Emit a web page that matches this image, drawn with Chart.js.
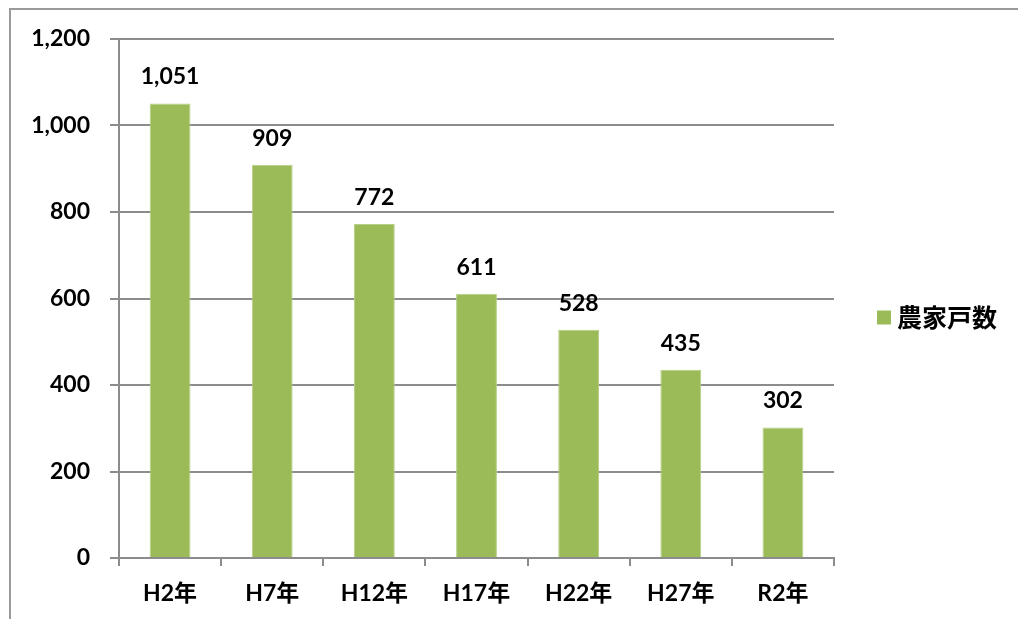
<!DOCTYPE html>
<html>
<head>
<meta charset="utf-8">
<script src="https://cdn.jsdelivr.net/npm/chart.js@4"></script>
<style>
  html, body { margin: 0; padding: 0; background: #fff; }
  #wrap { position: relative; width: 1018px; height: 619px; overflow: hidden; }
  #frame { position: absolute; left: 9px; top: 8px; width: 1100px; height: 700px;
           border-left: 2px solid #9a9a9a; border-top: 2px solid #9a9a9a; }
  canvas { position: absolute; left: 0; top: 0; }
</style>
</head>
<body>
<div id="wrap">
  <div id="frame"></div>
  <canvas id="chart" width="1018" height="619"></canvas>
</div>
<script>
const categories = ['H2年', 'H7年', 'H12年', 'H17年', 'H22年', 'H27年', 'R2年'];
const farmHouseholds = [1051, 909, 772, 611, 528, 435, 302];
const seriesName = '農家戸数';
const yTicks = [0, 200, 400, 600, 800, 1000, 1200];

const FONT = 'Lato, "Noto Sans CJK JP", sans-serif';
const GREEN = '#9bbb59';
const GRID = '#8c8c8c';

// value labels above each bar
const barLabels = {
  id: 'barLabels',
  afterDatasetsDraw(chart) {
    const ctx = chart.ctx;
    const meta = chart.getDatasetMeta(0);
    ctx.save();
    ctx.font = 'bold 23px ' + FONT;
    ctx.fillStyle = '#000';
    ctx.textAlign = 'center';
    ctx.textBaseline = 'alphabetic';
    meta.data.forEach((bar, i) => {
      ctx.fillText(farmHouseholds[i].toLocaleString('en-US'), bar.x, bar.y - 19);
    });
    ctx.restore();
  }
};

// legend on the right
const sideLegend = {
  id: 'sideLegend',
  afterDraw(chart) {
    const ctx = chart.ctx;
    const area = chart.chartArea;
    const cy = (area.top + area.bottom) / 2 + 19;
    ctx.save();
    ctx.fillStyle = GREEN;
    ctx.fillRect(877, cy - 7, 14, 14);
    ctx.fillStyle = '#000';
    ctx.font = 'bold 25px ' + FONT;
    ctx.textAlign = 'left';
    ctx.textBaseline = 'middle';
    ctx.fillText(seriesName, 897, cy + 1);
    ctx.restore();
  }
};

new Chart(document.getElementById('chart'), {
  type: 'bar',
  data: {
    labels: categories,
    datasets: [{
      label: seriesName,
      data: farmHouseholds,
      backgroundColor: GREEN,
      borderColor: '#b5cf86',
      borderWidth: 1,
      barPercentage: 0.4,
      categoryPercentage: 1.0
    }]
  },
  options: {
    responsive: false,
    animation: false,
    layout: { padding: { left: 0, right: 184, top: 39, bottom: 0 } },
    plugins: {
      legend: { display: false },
      tooltip: { enabled: false }
    },
    scales: {
      x: {
        grid: { drawOnChartArea: false, color: GRID, tickLength: 8, lineWidth: 2 },
        border: { color: GRID, width: 2 },
        ticks: { color: '#000', font: { family: FONT, size: 23, weight: 'bold' }, padding: 14 },
        afterFit(scale) { scale.height = 619 - 558; }
      },
      y: {
        min: 0,
        max: 1200,
        afterBuildTicks(scale) { scale.ticks = yTicks.map(v => ({ value: v })); },
        grid: { color: GRID, tickLength: 9, lineWidth: 2 },
        border: { color: GRID, width: 2 },
        ticks: {
          color: '#000',
          font: { family: FONT, size: 23, weight: 'bold' },
          padding: 20,
          callback: v => v.toLocaleString('en-US')
        },
        afterFit(scale) { scale.width = 119; }
      }
    }
  },
  plugins: [barLabels, sideLegend]
});
</script>
</body>
</html>
